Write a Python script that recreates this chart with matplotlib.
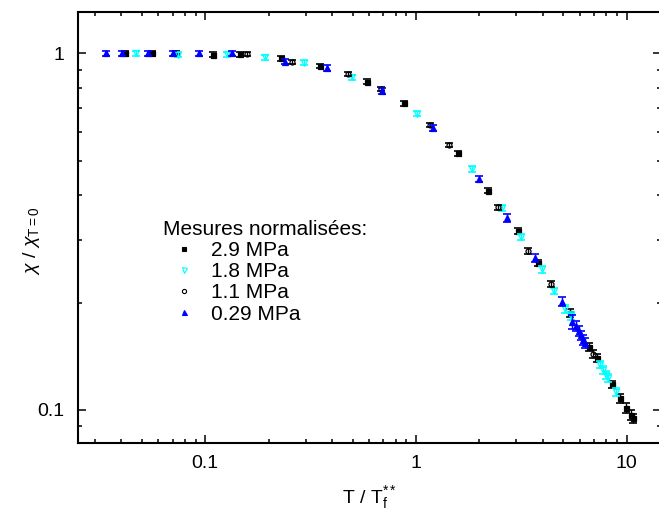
import matplotlib
matplotlib.use("Agg")
import matplotlib.pyplot as plt
from matplotlib.lines import Line2D
import numpy as np

plt.rcParams['font.family'] = ['Liberation Sans', 'DejaVu Sans']
plt.rcParams['mathtext.fontset'] = 'custom'
plt.rcParams['mathtext.rm'] = 'Liberation Sans'
plt.rcParams['mathtext.it'] = 'Liberation Sans:italic'
plt.rcParams['mathtext.bf'] = 'Liberation Sans:bold'

# ---- data: T/Tf** , chi/chi(T=0), relative error ----
x_29 = [0.0416, 0.0558, 0.0726, 0.1088, 0.1462, 0.228, 0.350, 0.585, 0.877, 1.582,
        2.196, 3.05, 3.79, 5.38, 6.62, 7.23, 8.52, 9.29, 9.92, 10.48, 10.71]
y_29 = [0.999, 0.999, 0.999, 0.989, 0.995, 0.968, 0.921, 0.833, 0.724, 0.524,
        0.412, 0.318, 0.258, 0.187, 0.1505, 0.1396, 0.118, 0.1078, 0.1013, 0.0968, 0.0947]
e_29 = [0.016, 0.016, 0.016, 0.016, 0.016, 0.016, 0.016, 0.016, 0.016, 0.018,
        0.018, 0.02, 0.02, 0.025, 0.025, 0.025, 0.025, 0.03, 0.03, 0.03, 0.03]

x_18 = [0.0469, 0.0742, 0.1268, 0.192, 0.295, 0.495, 1.014, 1.838, 2.568, 3.14,
        3.98, 4.52, 5.12, 5.42, 7.47, 7.74, 7.98, 8.18, 8.90]
y_18 = [0.999, 0.989, 0.992, 0.9745, 0.941, 0.856, 0.676, 0.473, 0.369, 0.306,
        0.248, 0.2157, 0.1915, 0.1831, 0.1341, 0.1295, 0.1253, 0.1227, 0.1125]
e_18 = [0.016, 0.016, 0.016, 0.016, 0.016, 0.016, 0.016, 0.018, 0.018, 0.02,
        0.022, 0.022, 0.025, 0.025, 0.025, 0.025, 0.025, 0.025, 0.025]

x_11 = [0.1572, 0.257, 0.477, 0.680, 1.165, 1.439, 2.458, 3.41, 4.36, 6.94]
y_11 = [0.9955, 0.947, 0.873, 0.794, 0.630, 0.553, 0.370, 0.279, 0.225, 0.1436]
e_11 = [0.012, 0.012, 0.012, 0.012, 0.012, 0.014, 0.016, 0.02, 0.02, 0.025]

x_029 = [0.0337, 0.0401, 0.0536, 0.0700, 0.0937, 0.1338, 0.2389, 0.377, 0.6876, 1.208,
         1.991, 2.713, 3.67, 4.93, 5.50, 5.75, 5.94, 6.07, 6.20, 6.34]
y_029 = [1.0, 1.0, 0.999, 1.0, 1.0, 0.999, 0.947, 0.908, 0.784, 0.616,
         0.444, 0.346, 0.2663, 0.2011, 0.1764, 0.172, 0.1665, 0.1618, 0.1571, 0.1541]
e_029 = [0.016, 0.016, 0.016, 0.016, 0.016, 0.016, 0.016, 0.018, 0.018, 0.02,
         0.022, 0.025, 0.025, 0.03, 0.045, 0.03, 0.03, 0.03, 0.03, 0.03]

labels = ["2.9 MPa", "1.8 MPa", "1.1 MPa", "0.29 MPa"]
legend_title = "Mesures normalisées:"

fig = plt.figure(figsize=(6.59, 5.14), dpi=100)
ax = fig.add_axes([78/659, (514-443)/514, (661-78)/659, (443-12)/514])

series = [
    (x_29, y_29, e_29, dict(marker='s', color='black', mfc='black', mec='black', ms=3.6)),
    (x_18, y_18, e_18, dict(marker='v', color='#00FFFF', mfc='none', mec='#00FFFF', ms=4.2)),
    (x_11, y_11, e_11, dict(marker='o', color='black', mfc='none', mec='black', ms=3.6)),
    (x_029, y_029, e_029, dict(marker='^', color='#0000FF', mfc='#0000FF', mec='#0000FF', ms=4.2)),
]
handles = []
for (xs, ys, es, st), lab in zip(series, labels):
    xs = np.array(xs); ys = np.array(ys); es = np.array(es)
    ax.errorbar(xs, ys, yerr=ys*es, fmt='none', ecolor=st['color'], elinewidth=1.0,
                capsize=3.0, capthick=1.2)
    ax.plot(xs, ys, linestyle='none', marker=st['marker'], ms=st['ms'],
            mfc=st['mfc'], mec=st['mec'], mew=0.9)
    handles.append(Line2D([], [], linestyle='none', marker=st['marker'], ms=st['ms'] - 0.6,
                          mfc=st['mfc'], mec=st['mec'], mew=0.8, label=lab))

ax.set_xscale('log')
ax.set_yscale('log')
ax.set_xlim(0.0249, 14.55)
ax.set_ylim(0.0808, 1.305)

ax.set_xticks([0.1, 1, 10])
ax.set_xticklabels(["0.1", "1", "10"])
ax.set_yticks([0.1, 1])
ax.set_yticklabels(["0.1", "1"])
ax.yaxis.set_minor_formatter(matplotlib.ticker.NullFormatter())
ax.xaxis.set_minor_formatter(matplotlib.ticker.NullFormatter())

for s in ax.spines.values():
    s.set_linewidth(1.5)
ax.tick_params(which='both', direction='in', top=True, right=True, width=1.1)
ax.tick_params(which='major', length=6)
ax.tick_params(which='minor', length=3)
ax.tick_params(axis='x', which='major', labelsize=14, pad=9)
ax.tick_params(axis='y', which='major', labelsize=14, pad=10)

ax.set_xlabel(r"T / T$_\mathrm{f}^{**}$", fontsize=14)
ax.set_ylabel(r"$\chi$ / $\chi_{\mathrm{T=0}}$", fontsize=14)
ax.xaxis.set_label_coords(0.5, -0.095)
ax.yaxis.set_label_coords(-0.062, 0.47)

ax.text(0.1458, 0.4965, legend_title, transform=ax.transAxes, fontsize=15,
        ha='left', va='center')
ax.legend(handles=handles, loc='upper left', bbox_to_anchor=(0.1676, 0.468),
          frameon=False, fontsize=15, borderpad=0, borderaxespad=0,
          handlelength=0.8, handletextpad=0.9, labelspacing=0.1)

fig.savefig("out.png", dpi=100)
